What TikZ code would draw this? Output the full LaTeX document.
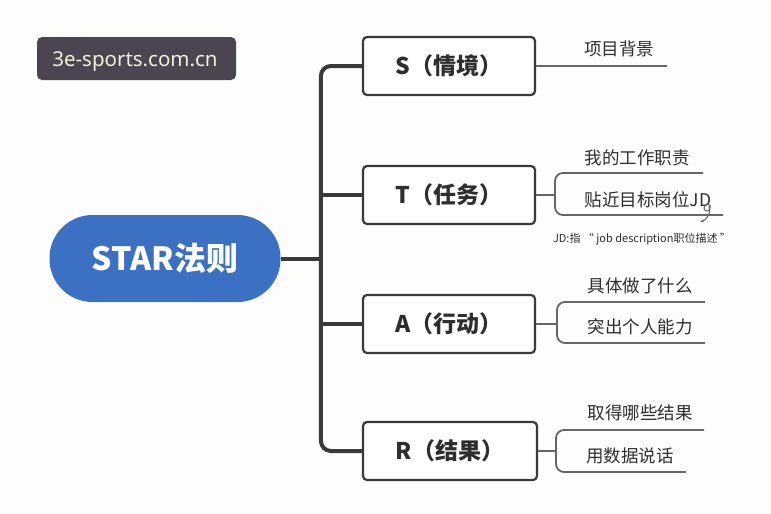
\documentclass[tikz,border=0pt]{standalone}
\usepackage{fontspec}
\setmainfont{Noto Sans}
\newfontfamily\cjk{Noto Sans CJK SC}
\newfontfamily\wmfont{Noto Sans}
\usetikzlibrary{arrows.meta}
\definecolor{bgc}{HTML}{FDFDFB}
\definecolor{trunkc}{HTML}{3A3A3A}
\definecolor{leafc}{HTML}{666666}
\definecolor{pillc}{HTML}{3C70C2}
\definecolor{wmbg}{HTML}{4A4550}
\definecolor{wmtx}{HTML}{F4EEDC}
\definecolor{txtc}{HTML}{2E2E2E}
\begin{document}
\begin{tikzpicture}[x=1pt,y=-1pt,
  trunk/.style={draw=trunkc,line width=4pt},
  leafline/.style={draw=leafc,line width=1.8pt},
  box/.style={draw=trunkc,line width=2.2pt,rounded corners=4pt,fill=white,minimum width=172pt,minimum height=58pt,inner sep=0pt,font=\cjk\bfseries\fontsize{23}{27}\selectfont,text=txtc},
  leaftext/.style={font=\cjk\fontsize{17.5}{20}\selectfont,text=txtc,inner sep=0pt},
  note/.style={font=\cjk\fontsize{11}{13}\selectfont,text=txtc,inner sep=0pt}]
\fill[bgc] (0,0) rectangle (771,514);
\useasboundingbox (0,0) rectangle (771,514);
% watermark
\node[fill=wmbg,rounded corners=5pt,minimum width=199pt,minimum height=43pt,inner sep=0pt] (wm) at (136.5,58.5) {};
\node[text=wmtx,font=\wmfont\fontsize{20.5}{24}\selectfont,inner sep=0pt] (wmt) at (135,62) {3e-sports.com.cn};
% root
\node[fill=pillc,rounded corners=43pt,minimum width=231pt,minimum height=87pt,inner sep=0pt,text=white,font=\cjk\bfseries\fontsize{32}{36}\selectfont] (star) at (165,258.5) {STAR法则};
% main boxes
\node[box] (S) at (449,66) {S（情境）};
\node[box] (T) at (449,195) {T（任务）};
\node[box] (A) at (449,324) {A（行动）};
\node[box,minimum width=174pt] (R) at (450,451) {R（结果）};
% trunk
\coordinate (jroot) at (322,258.5);
\draw[trunk] (star.east) -- (jroot);
\draw[trunk,rounded corners=10pt] (S.west) -- ++(-41,0) |- (R.west);
\draw[trunk] (T.west) -- ++(-41,0);
\draw[trunk] (A.west) -- ++(-41,0);
% S leaf
\coordinate (s1e) at (667,66);
\draw[leafline] (S.east) -- (s1e);
\node[leaftext] (s1) at (619,49) {项目背景};
% T leaves
\coordinate (tb) at (555,195);
\coordinate (t1e) at (703,173);
\coordinate (t2e) at (723,215);
\draw[leafline] (T.east) -- (tb);
\draw[leafline,rounded corners=8pt] (t1e) -- (555,173) -- (555,215) -- (t2e);
\node[leaftext] (t1) at (637,158) {我的工作职责};
\node[leaftext] (t2) at (648,200) {贴近目标岗位JD};
\node[note] (tn) at (642,239) {JD:指 “ job description职位描述 ”};
% handwritten curl
\draw[leafc,line width=1pt,-{Stealth[length=4pt]}] (709,208) .. controls (712,203) and (704,203) .. (704,208) .. controls (704,212) and (710,212) .. (710,208) .. controls (710,215) and (706,220) .. (700,222);
% A leaves
\coordinate (ab) at (557,324);
\coordinate (a1e) at (705,302);
\coordinate (a2e) at (705,343);
\draw[leafline] (A.east) -- (ab);
\draw[leafline,rounded corners=8pt] (a1e) -- (557,302) -- (557,343) -- (a2e);
\node[leaftext] (a1) at (640,286) {具体做了什么};
\node[leaftext] (a2) at (640,327) {突出个人能力};
% R leaves
\coordinate (rb) at (556,451);
\coordinate (r1e) at (704,430);
\coordinate (r2e) at (686,472);
\draw[leafline] (R.east) -- (rb);
\draw[leafline,rounded corners=8pt] (r1e) -- (556,430) -- (556,472) -- (r2e);
\node[leaftext] (r1) at (640,413) {取得哪些结果};
\node[leaftext] (r2) at (630,456) {用数据说话};
\end{tikzpicture}
\end{document}
